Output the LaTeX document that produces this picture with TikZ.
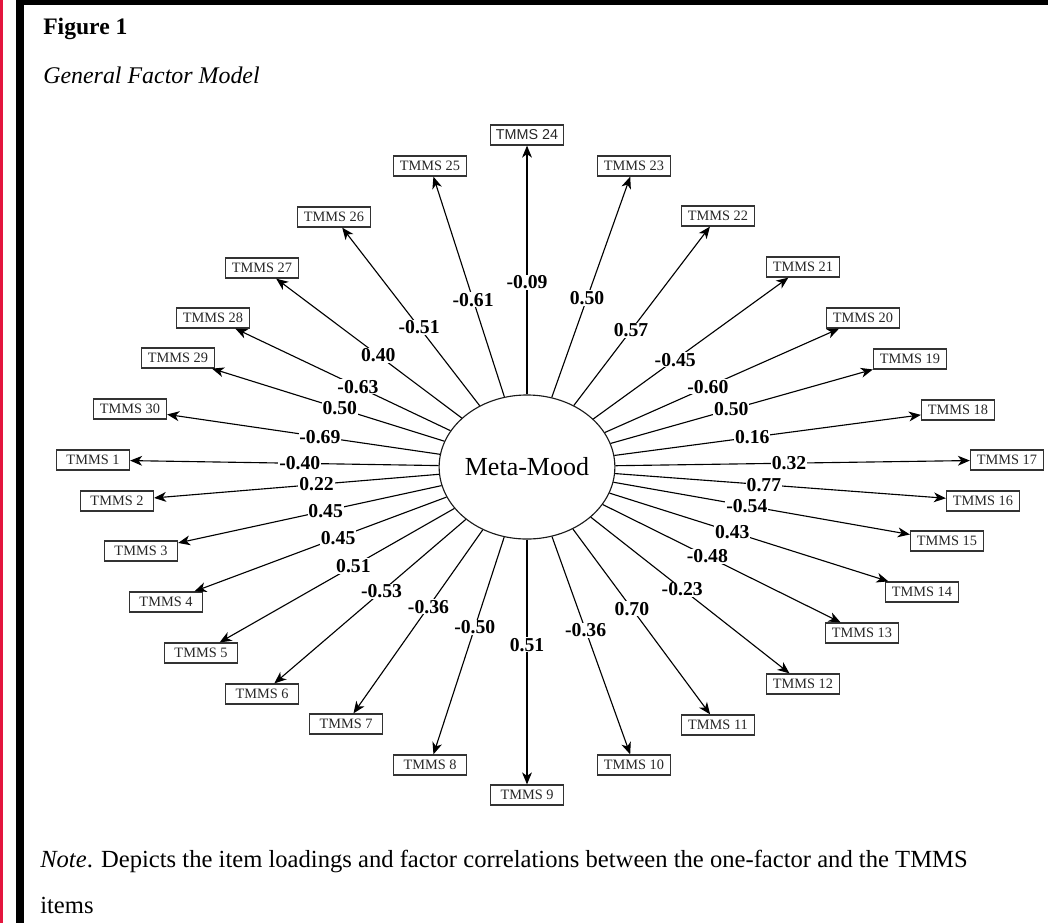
\documentclass[tikz,border=0pt]{standalone}
\usepackage{fontspec}
\setmainfont{Liberation Serif}
\newfontfamily\itemsans{Liberation Sans}
\usetikzlibrary{
    positioning,
    shapes.geometric,
    arrows.meta
    }
\definecolor{marginred}{RGB}{228,22,62}

\begin{document}
\begin{tikzpicture}[x=0.025cm, y=-0.025cm]
% one unit is one pixel of the page, y runs downwards
\tikzset{item/.style =
        {
            rectangle,
            draw=black!80,
            line width=0.9pt,
            minimum width=1.825cm,
            minimum height=0.5cm,
            inner sep=0pt,
            text=black!85,
            font=\fontsize{10.2}{12}\selectfont
        }
}

\tikzset{factor/.style =
        {
            ellipse,
            draw=black!90,
            line width=0.8pt,
            minimum width=4.2cm,
            minimum height=3.6cm,
            inner sep=0pt,
            font=\fontsize{18.5}{22}\selectfont
        }
}

\tikzset{load/.style =
        {
            line width=0.8pt,
            -{Stealth[length=8.5pt, width=7pt, inset=2.5pt]}
        }
}

\tikzset{weight/.style =
        {
            fill=white,
            inner sep=0.6pt,
            font=\fontsize{14}{16}\selectfont\bfseries
        }
}

\tikzset{caption/.style =
        {
            anchor=base west,
            inner sep=0pt
        }
}

\useasboundingbox (0,0) rectangle (1048,923);

% page margins
\fill[marginred] (0,0) rectangle (3,923);
\fill[black] (16,0) rectangle (24,923);
\fill[black] (16,0) rectangle (1048,4.5);

\node[caption, font=\fontsize{16.8}{20}\selectfont\bfseries] (fig) at (43,34) {Figure 1};
\node[caption, font=\fontsize{17}{20}\selectfont\itshape] (title) at (43,83) {General Factor Model};

\node[factor] (mood) at (527,467) {Meta-Mood};

\foreach \n / \x / \y in
    {1/93/460, 2/117/501, 3/141/551, 4/166/602, 5/201/653,
        6/262/694, 7/346/724, 8/430/765, 9/527/795, 10/634/765,
        11/718/725, 12/803/684, 13/862/633, 14/922/592, 15/947/541,
        16/983/501, 17/1007/460, 18/958/410, 19/910/359, 20/863/318,
        21/803/267, 22/718/216, 23/634/166, 25/430/166, 26/334/217,
        27/262/268, 28/213/318, 29/178/358, 30/130/409}
\node[item] (tmms-\n) at (\x,\y) {TMMS \n};

\node[item, font=\fontsize{10.2}{12}\selectfont\itemsans] (tmms-24) at (527,135) {TMMS 24};

\foreach \n / \w / \p in
    {1/-0.40/0.45, 2/0.22/0.43, 3/0.45/0.44, 4/0.45/0.43, 5/0.51/0.43,
        6/-0.53/0.44, 7/-0.36/0.42, 8/-0.50/0.415, 9/0.51/0.43, 10/-0.36/0.43,
        11/0.70/0.43, 12/-0.23/0.46, 13/-0.48/0.44, 14/0.43/0.44, 15/-0.54/0.45,
        16/0.77/0.45, 17/0.32/0.49, 18/0.16/0.45, 19/0.50/0.46, 20/-0.60/0.44,
        21/-0.45/0.42, 22/0.57/0.42, 23/0.50/0.45, 24/-0.09/0.45, 25/-0.61/0.44,
        26/-0.51/0.44, 27/0.40/0.45, 28/-0.63/0.43, 29/0.50/0.45, 30/-0.69/0.44}
    {
        \draw [load] (mood) -- (tmms-\n) node[weight, pos=\p] {\w};
    }

\node[caption, font=\fontsize{17.5}{20}\selectfont] (note) at (40,867)
    {\textit{Note}. Depicts the item loadings and factor correlations between the one-factor and the TMMS};
\node[caption, font=\fontsize{17.5}{20}\selectfont] (note-end) at (40,913) {items};

\end{tikzpicture}
\end{document}
